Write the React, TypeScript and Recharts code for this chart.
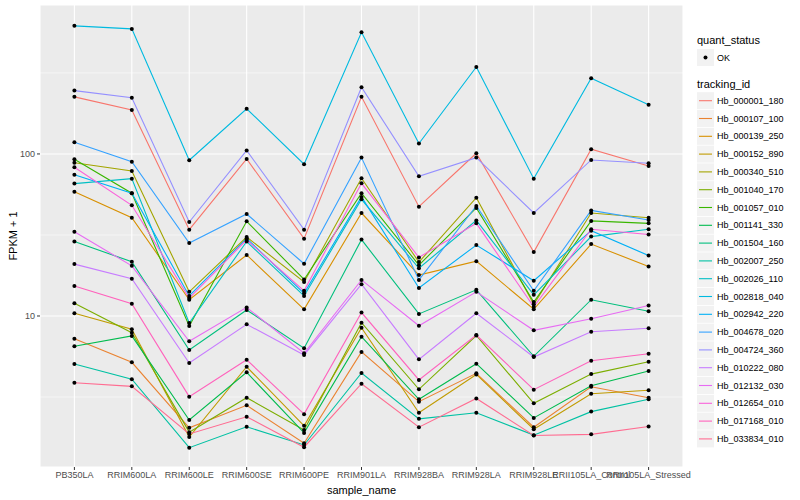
import React from 'react';
import { LineChart, Line, XAxis, YAxis, CartesianGrid } from 'recharts';

// x categories
const samples = [
  'PB350LA',
  'RRIM600LA',
  'RRIM600LE',
  'RRIM600SE',
  'RRIM600PE',
  'RRIM901LA',
  'RRIM928BA',
  'RRIM928LA',
  'RRIM928LE',
  'RRII105LA_Control',
  'RRII105LA_Stressed',
];

const trackingIds = [
  'Hb_000001_180',
  'Hb_000107_100',
  'Hb_000139_250',
  'Hb_000152_890',
  'Hb_000340_510',
  'Hb_001040_170',
  'Hb_001057_010',
  'Hb_001141_330',
  'Hb_001504_160',
  'Hb_002007_250',
  'Hb_002026_110',
  'Hb_002818_040',
  'Hb_002942_220',
  'Hb_004678_020',
  'Hb_004724_360',
  'Hb_010222_080',
  'Hb_012132_030',
  'Hb_012654_010',
  'Hb_017168_010',
  'Hb_033834_010',
];

const trackingColors = [
  '#F8766D', '#EA8331', '#D89000', '#C09B00', '#A3A500',
  '#7CAE00', '#39B600', '#00BB4E', '#00BF7D', '#00C1A3',
  '#00BFC4', '#00BAE0', '#00B0F6', '#35A2FF', '#9590FF',
  '#C77CFF', '#E76BF3', '#FA62DB', '#FF62BC', '#FF6C91',
];

// FPKM + 1, one value per sample
const hb_000001_180 = [225, 187, 34.1, 93.1, 30.0, 225, 47.3, 101, 24.8, 107, 84.3];
const hb_000107_100 = [7.24, 5.18, 2.04, 2.81, 1.64, 6.0, 2.96, 4.43, 2.06, 3.66, 3.13];
const hb_000139_250 = [58.5, 40.4, 12.6, 23.8, 11.0, 43.2, 17.9, 21.8, 11.0, 27.8, 20.2];
const hb_000152_890 = [10.4, 8.28, 1.79, 4.86, 2.1, 8.47, 2.53, 4.36, 2.0, 3.31, 3.48];
const hb_000340_510 = [88.3, 78.5, 14.1, 30.7, 16.2, 70.8, 21.5, 53.7, 11.8, 43.2, 40.4];
const hb_001040_170 = [12.0, 7.88, 1.92, 3.13, 1.98, 9.09, 3.53, 7.58, 2.89, 4.38, 5.22];
const hb_001057_010 = [92.7, 57.2, 8.68, 38.4, 16.8, 57.2, 20.6, 46.4, 12.2, 38.6, 37.3];
const hb_001141_330 = [6.5, 7.53, 2.28, 4.49, 1.9, 7.45, 3.06, 5.08, 2.35, 3.71, 4.58];
const hb_001504_160 = [28.8, 21.6, 6.17, 10.9, 6.32, 29.6, 10.3, 14.5, 5.64, 12.6, 10.7];
const hb_002007_250 = [5.05, 4.07, 1.54, 2.07, 1.6, 4.45, 2.32, 2.53, 1.84, 2.57, 3.06];
const hb_002026_110 = [65.6, 70.4, 9.05, 28.8, 13.3, 52.5, 19.7, 38.9, 13.5, 30.9, 34.3];
const hb_002818_040 = [617, 591, 91.4, 190, 86.4, 564, 116, 344, 70.4, 293, 201];
const hb_002942_220 = [74.5, 57.2, 13.3, 30.1, 13.8, 54.3, 14.9, 27.4, 16.5, 33.6, 23.6];
const hb_004678_020 = [118, 89.6, 28.2, 42.6, 21.0, 94.9, 16.7, 47.8, 14.3, 44.8, 39.1];
const hb_004724_360 = [246, 222, 38.0, 105, 34.1, 258, 72.8, 94.9, 43.2, 91.8, 87.6];
const hb_010222_080 = [20.9, 17.0, 5.13, 8.89, 5.75, 15.7, 5.4, 10.4, 5.58, 8.0, 8.4];
const hb_012132_030 = [33.1, 20.4, 6.98, 11.3, 5.89, 16.7, 8.71, 14.1, 8.16, 9.62, 11.6];
const hb_012654_010 = [82.8, 48.2, 12.9, 29.5, 14.3, 65.9, 23.0, 37.3, 11.4, 34.3, 31.8];
const hb_017168_010 = [15.3, 11.9, 3.18, 5.37, 2.48, 10.5, 4.03, 7.63, 3.51, 5.3, 5.85];
const hb_033834_010 = [3.87, 3.68, 1.87, 2.39, 1.55, 3.82, 2.06, 3.1, 1.83, 1.86, 2.08];

const seriesValues = [
  hb_000001_180, hb_000107_100, hb_000139_250, hb_000152_890, hb_000340_510,
  hb_001040_170, hb_001057_010, hb_001141_330, hb_001504_160, hb_002007_250,
  hb_002026_110, hb_002818_040, hb_002942_220, hb_004678_020, hb_004724_360,
  hb_010222_080, hb_012132_030, hb_012654_010, hb_017168_010, hb_033834_010,
];

const yTicks = [10, 100];
const yMinorTicks = [3.162, 31.62, 316.2];
const yDomain = [1.17, 830];
const quantStatus = ['OK'];

const FONT = '"Liberation Sans", Arial, Helvetica, sans-serif';

const rows = samples.map((s, i) => {
  const row: Record<string, any> = { sample_name: s };
  trackingIds.forEach((id, j) => {
    row[id] = seriesValues[j][i];
  });
  return row;
});

const renderDot = (props: any) => {
  const { cx, cy, index, dataKey } = props;
  const key = `${dataKey}-${index}`;
  if (cx == null || cy == null) return <g key={key} />;
  return <circle key={key} cx={cx} cy={cy} r={2} fill="#000000" />;
};

const Overlay = () => (
  <svg
    width={800}
    height={500}
    style={{ position: 'absolute', left: 0, top: 0, pointerEvents: 'none' }}
    fontFamily={FONT}
  >
    {/* axis titles */}
    <text
      x={13}
      y={236}
      fontSize={11}
      fill="#000"
      textAnchor="middle"
      dominantBaseline="central"
      transform="rotate(-90 13 236)"
    >
      FPKM + 1
    </text>
    <text x={361.5} y={490} fontSize={11} fill="#000" textAnchor="middle" dominantBaseline="central">
      sample_name
    </text>

    {/* legend: quant_status */}
    <text x={697} y={40} fontSize={11} fill="#000" dominantBaseline="central">
      quant_status
    </text>
    {quantStatus.map((q, i) => (
      <g key={q}>
        <rect x={697} y={49 + i * 17.8} width={17} height={17} fill="#F2F2F2" />
        <circle cx={705.5} cy={57.5 + i * 17.8} r={2} fill="#000" />
        <text x={717} y={57.5 + i * 17.8} fontSize={9} fill="#000" dominantBaseline="central">
          {q}
        </text>
      </g>
    ))}

    {/* legend: tracking_id */}
    <text x={697} y={84} fontSize={11} fill="#000" dominantBaseline="central">
      tracking_id
    </text>
    {trackingIds.map((id, i) => {
      const cy = 100.7 + i * 17.8;
      return (
        <g key={id}>
          <rect x={697} y={cy - 8.5} width={17} height={17} fill="#F2F2F2" />
          <line x1={699} x2={712} y1={cy} y2={cy} stroke={trackingColors[i]} strokeWidth={1.1} />
          <text x={717} y={cy} fontSize={9} fill="#000" dominantBaseline="central">
            {id}
          </text>
        </g>
      );
    })}
  </svg>
);

export default function App() {
  return (
    <div
      style={{
        position: 'absolute',
        left: 0,
        top: 0,
        width: 800,
        height: 500,
        background: '#ffffff',
        fontFamily: FONT,
      }}
    >
      <LineChart
        width={800}
        height={500}
        data={rows}
        margin={{ top: 5, right: 117, bottom: 3, left: 0 }}
      >
        <CartesianGrid
          fill="#EBEBEB"
          fillOpacity={1}
          stroke="#FFFFFF"
          strokeWidth={0.55}
          vertical={false}
          horizontalValues={yMinorTicks}
        />
        <CartesianGrid stroke="#FFFFFF" strokeWidth={1.1} />
        <XAxis
          dataKey="sample_name"
          type="category"
          interval={0}
          padding={{ left: 34.4, right: 34.4 }}
          height={30}
          axisLine={false}
          tickSize={3}
          tickLine={{ stroke: '#333333' }}
          tick={{ fontSize: 9, fill: '#4D4D4D', fontFamily: FONT }}
        />
        <YAxis
          scale="log"
          type="number"
          domain={yDomain}
          allowDataOverflow
          ticks={yTicks}
          tickFormatter={(v: number) => String(v)}
          width={40}
          axisLine={false}
          tickSize={3}
          tickLine={{ stroke: '#333333' }}
          tick={{ fontSize: 9, fill: '#4D4D4D', fontFamily: FONT }}
        />
        {trackingIds.map((id, i) => (
          <Line
            key={id}
            dataKey={id}
            type="linear"
            stroke={trackingColors[i]}
            strokeWidth={1.1}
            dot={false}
            activeDot={false}
            isAnimationActive={false}
          />
        ))}
        {trackingIds.map((id) => (
          <Line
            key={`pt-${id}`}
            dataKey={id}
            type="linear"
            stroke="none"
            dot={renderDot}
            activeDot={false}
            legendType="none"
            isAnimationActive={false}
          />
        ))}
      </LineChart>
      <Overlay />
    </div>
  );
}
